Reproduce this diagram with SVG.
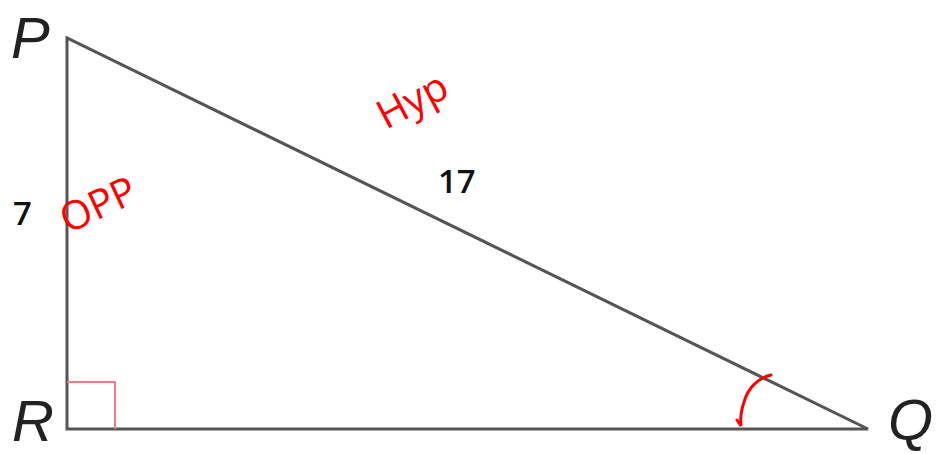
<svg xmlns="http://www.w3.org/2000/svg" width="936" height="454" viewBox="0 0 936 454">
<style>
.edge{fill:none;stroke:#555;stroke-width:3;stroke-linejoin:miter}
.vlab{font-family:"Liberation Sans",Arial,sans-serif;font-style:italic;font-size:58px;fill:#222}
.num{font-family:"Open Sans","Liberation Sans",sans-serif;font-weight:600;font-size:33px;fill:#111}
.hand{font-family:"Open Sans","Liberation Sans",sans-serif;fill:#ff0000;font-size:40px}
</style>
<rect width="936" height="454" fill="#fff"/>
<g id="connectors">
<path class="edge" d="M67,38 L67,429 L868,429 Z"/>
<path d="M67,382 L115,382 L115,429" fill="none" stroke="#f47a8a" stroke-width="2"/>
<path d="M771,375 C758,378 748,388 744,402 C741,411 740,418 741,426 L737,420" fill="none" stroke="#ff0000" stroke-width="3" stroke-linecap="round"/>
</g>
<g id="node-P"><text class="vlab" x="11" y="58">P</text></g>
<g id="node-R"><text class="vlab" x="12" y="441">R</text></g>
<g id="node-Q"><text class="vlab" x="888" y="440">Q</text></g>
<g id="label-7"><text class="num" x="13" y="225">7</text></g>
<g id="label-17"><text class="num" x="438" y="193">17</text></g>
<g id="note-hyp"><text class="hand" x="386" y="130" transform="rotate(-28 386 130)">Hyp</text></g>
<g id="note-opp"><text class="hand" x="68" y="234" transform="rotate(-25 68 234)">OPP</text></g>
</svg>
